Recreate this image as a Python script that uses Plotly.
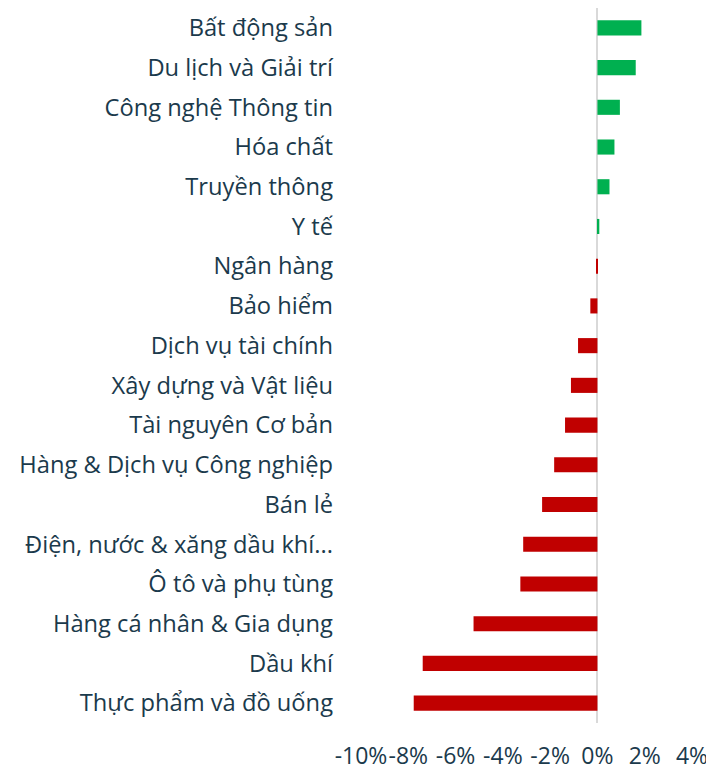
import plotly.graph_objects as go

categories = [
    "Bất động sản",
    "Du lịch và Giải trí",
    "Công nghệ Thông tin",
    "Hóa chất",
    "Truyền thông",
    "Y tế",
    "Ngân hàng",
    "Bảo hiểm",
    "Dịch vụ tài chính",
    "Xây dựng và Vật liệu",
    "Tài nguyên Cơ bản",
    "Hàng & Dịch vụ Công nghiệp",
    "Bán lẻ",
    "Điện, nước & xăng dầu khí...",
    "Ô tô và phụ tùng",
    "Hàng cá nhân & Gia dụng",
    "Dầu khí",
    "Thực phẩm và đồ uống",
]
values = [1.86, 1.62, 0.95, 0.72, 0.51, 0.08, -0.05, -0.30, -0.82, -1.12,
          -1.37, -1.83, -2.34, -3.14, -3.26, -5.24, -7.39, -7.77]
tick_vals = [-10, -8, -6, -4, -2, 0, 2, 4]
tick_text = ["-10%", "-8%", "-6%", "-4%", "-2%", "0%", "2%", "4%"]

GREEN = "#00b050"
RED = "#c00000"
TEXT = "#1b3a4c"

colors = [GREEN if v >= 0 else RED for v in values]

fig = go.Figure(
    go.Bar(
        x=values,
        y=categories,
        orientation="h",
        marker=dict(color=colors, line=dict(width=0)),
        width=0.38,
        hoverinfo="x+y",
    )
)

fig.update_layout(
    width=706,
    height=760,
    margin=dict(l=353, r=22, t=0, b=45, pad=0),
    paper_bgcolor="white",
    plot_bgcolor="white",
    font=dict(family="Open Sans", size=23.5, color=TEXT),
    showlegend=False,
)
fig.update_xaxes(
    range=[-10, 4],
    tickvals=tick_vals,
    ticktext=tick_text,
    tickangle=0,
    automargin=False,
    showgrid=False,
    zeroline=True,
    zerolinecolor="#d9d9d9",
    zerolinewidth=2,
    showline=False,
    ticks="",
    ticklabelstandoff=17,
    tickfont=dict(size=23, color=TEXT),
)
fig.update_yaxes(
    categoryorder="array",
    categoryarray=categories[::-1],
    automargin=False,
    showgrid=False,
    zeroline=False,
    showline=False,
    ticks="",
    ticklabelstandoff=27,
    tickfont=dict(size=23.7, color=TEXT),
)

fig.write_html("out.html")
